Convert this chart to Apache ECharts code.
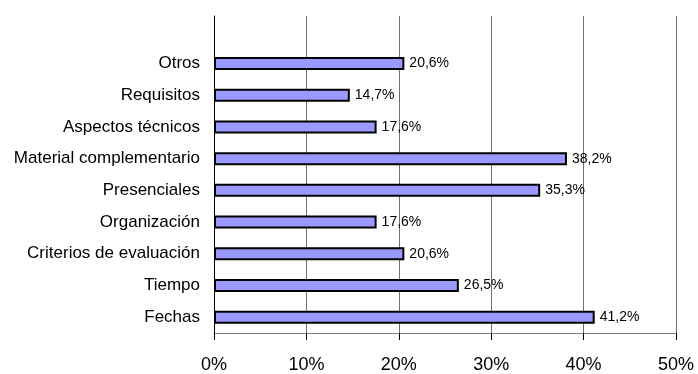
<!DOCTYPE html>
<html>
<head>
<meta charset="utf-8">
<script src="https://cdn.jsdelivr.net/npm/echarts@6/dist/echarts.min.js"></script>
<style>
  html, body { margin: 0; padding: 0; background: #fff; }
  #chart { width: 698px; height: 374px; }
</style>
</head>
<body>
<div id="chart"></div>
<script>
// Categories listed bottom to top
const categories = [
  'Fechas',
  'Tiempo',
  'Criterios de evaluación',
  'Organización',
  'Presenciales',
  'Material complementario',
  'Aspectos técnicos',
  'Requisitos',
  'Otros'
];
// Percentage of responses per category
const values = [41.2, 26.5, 20.6, 17.6, 35.3, 38.2, 17.6, 14.7, 20.6];
// X axis ticks (percent)
const xTicks = [0, 10, 20, 30, 40, 50];

const FONT = 'Liberation Sans, Arial, sans-serif';

const chart = echarts.init(document.getElementById('chart'));
chart.setOption({
  animation: false,
  backgroundColor: '#ffffff',
  grid: { left: 214, right: 22, top: 16, bottom: 39, containLabel: false },
  xAxis: {
    type: 'value',
    min: xTicks[0],
    max: xTicks[xTicks.length - 1],
    interval: xTicks[1] - xTicks[0],
    axisLine: { show: true, lineStyle: { color: '#808080', width: 1 } },
    axisTick: { show: true, inside: false, length: 7, lineStyle: { color: '#000', width: 1 } },
    splitLine: { show: true, lineStyle: { color: '#707070', width: 1 } },
    axisLabel: {
      formatter: v => v + '%',
      fontFamily: FONT,
      fontSize: 18,
      color: '#000',
      margin: 23
    }
  },
  yAxis: {
    type: 'category',
    // an empty slot above the top bar leaves headroom inside the plot
    data: categories.concat(['']),
    axisLine: { show: true, lineStyle: { color: '#000', width: 1 } },
    axisTick: { show: false },
    splitLine: { show: false },
    axisLabel: {
      fontFamily: FONT,
      fontSize: 17,
      color: '#000',
      margin: 14
    }
  },
  series: [{
    type: 'bar',
    data: values,
    barWidth: 13,
    itemStyle: { color: '#9999FF', borderColor: '#000', borderWidth: 2 },
    label: {
      show: true,
      position: 'right',
      distance: 5,
      fontFamily: FONT,
      fontSize: 14,
      color: '#000',
      formatter: p => p.value.toFixed(1).replace('.', ',') + '%'
    }
  }]
});
</script>
</body>
</html>
